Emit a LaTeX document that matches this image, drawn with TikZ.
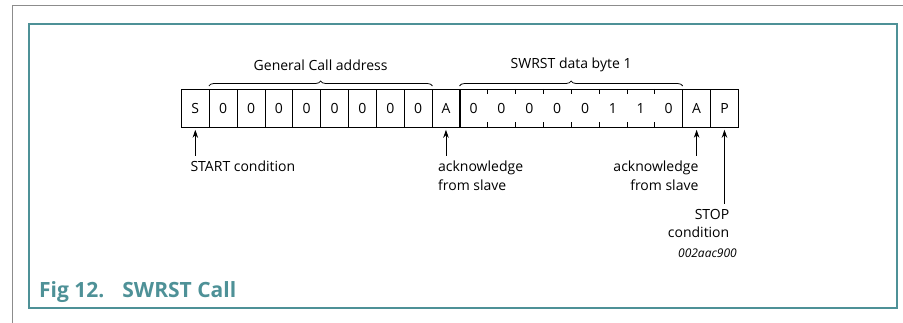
\documentclass[tikz,border=0pt]{standalone}
\usepackage{fontspec}
\setmainfont{Open Sans}
\usetikzlibrary{decorations.pathreplacing,arrows.meta}
\definecolor{figteal}{RGB}{78,145,151}
\definecolor{pagegrey}{RGB}{140,140,140}
\tikzset{
  bit/.style={minimum width=27.85pt, minimum height=38pt, inner sep=0pt, anchor=north west,
              font=\fontsize{14}{16}\selectfont},
  framed/.style={bit, draw=black, line width=0.8pt},
  lbl/.style={font=\fontsize{14}{18.5}\selectfont, inner sep=0pt},
  ptr/.style={line width=0.8pt, -{Stealth[length=8pt,width=5.5pt]}},
  grp/.style={decorate, decoration={brace, amplitude=5pt}, line width=0.8pt},
}
\begin{document}
\begin{tikzpicture}[x=1pt,y=-1pt]
\useasboundingbox (0,0) rectangle (903,323);
% page rules and figure frame
\draw[pagegrey, line width=1pt] (12,323) -- (12,6) -- (903,6);
\draw[figteal, line width=2pt] (29,24) rectangle (897,308);

% the serial frame: S, address byte, A, data byte, A, P
\def\xo{181}\def\cw{27.85}\def\yt{89}
\node[framed] (c0) at (\xo,\yt) {S};
\foreach \b [count=\i] in {0,0,0,0,0,0,0,0} {
  \node[framed] (c\i) at ({\xo+\i*\cw},\yt) {\b};
}
\node[framed] (c9) at ({\xo+9*\cw},\yt) {A};
\foreach \b [count=\j] in {0,0,0,0,0,1,1,0} {
  \pgfmathtruncatemacro{\k}{9+\j}
  \node[bit] (c\k) at ({\xo+\k*\cw},\yt) {\b};
}
\draw[line width=0.8pt] (c10.north west) rectangle (c17.south east);
\foreach \k in {10,...,16} {
  \draw[line width=0.8pt] (c\k.north east) -- ++(0,5);
  \draw[line width=0.8pt] (c\k.south east) -- ++(0,-5);
}
\node[framed] (c18) at ({\xo+18*\cw},\yt) {A};
\node[framed] (c19) at ({\xo+19*\cw},\yt) {P};

% byte groupings
\draw[grp] ([yshift=3pt]c1.north west) -- ([yshift=3pt]c8.north east)
  node[midway, yshift=21pt, lbl] (gca) {General Call address};
\draw[grp] ([yshift=3pt]c10.north west) -- ([yshift=3pt]c17.north east)
  node[midway, yshift=21pt, lbl] (swd) {SWRST data byte 1};

% pointers and their labels
\coordinate (pS) at ([yshift=-28pt]c0.south);
\coordinate (pA1) at ([yshift=-28pt]c9.south);
\coordinate (pA2) at ([yshift=-28pt]c18.south);
\coordinate (pP) at ([yshift=-76pt]c19.south);
\draw[ptr] (pS) -- ([yshift=-2pt]c0.south);
\draw[ptr] (pA1) -- ([yshift=-2pt]c9.south);
\draw[ptr] (pA2) -- ([yshift=-2pt]c18.south);
\draw[ptr] (pP) -- ([yshift=-2pt]c19.south);

\node[lbl, anchor=north west, align=left] (tS) at ([xshift=-5pt,yshift=-5pt]pS) {START condition};
\node[lbl, anchor=north west, align=left] (tA1) at ([xshift=-8pt,yshift=-5pt]pA1) {acknowledge\\from slave};
\node[lbl, anchor=north east, align=right] (tA2) at ([xshift=2pt,yshift=-5pt]pA2) {acknowledge\\from slave};
\node[lbl, anchor=north east, align=right] (tP) at ([xshift=5pt,yshift=-5pt]pP) {STOP\\condition};
\node[lbl, anchor=north east, font=\fontsize{12}{14}\selectfont\itshape] (code) at (737,249) {002aac900};

% caption
\node[anchor=base west, inner sep=0pt, text=figteal, font=\fontsize{21}{24}\selectfont\bfseries]
  (cap) at (39,298) {Fig 12.\hspace{18pt}SWRST Call};
\end{tikzpicture}
\end{document}
